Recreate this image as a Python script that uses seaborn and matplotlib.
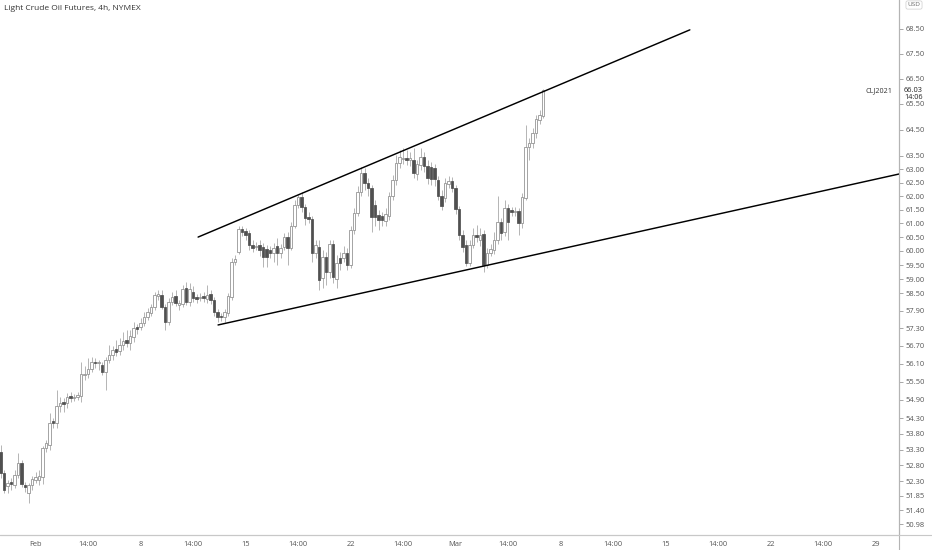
import numpy as np
import pandas as pd
import matplotlib
matplotlib.use("Agg")
import matplotlib.pyplot as plt
import seaborn as sns
from matplotlib.ticker import FixedLocator, FixedFormatter, NullLocator
from matplotlib.lines import Line2D

# ---------------- data (4h candles, CL1!) ----------------
opens = [53.22, 52.56, 52.15, 52.27, 52.18, 52.50, 52.86, 52.18, 51.93, 52.18,
         52.34, 52.34, 52.43, 53.34, 53.44, 54.21, 54.14, 54.70, 54.82, 54.80,
         55.03, 54.97, 55.00, 55.03, 55.73, 55.75, 55.92, 56.15, 56.11, 56.05,
         55.82, 56.22, 56.39, 56.59, 56.52, 56.73, 56.90, 56.80, 57.00, 57.33,
         57.34, 57.48, 57.68, 57.82, 58.02, 58.41, 58.44, 58.02, 57.51, 58.20,
         58.41, 58.09, 58.13, 58.69, 58.20, 58.55, 58.37, 58.33, 58.40, 58.30,
         58.48, 58.27, 57.85, 57.72, 57.68, 57.82, 58.37, 59.61, 59.96, 60.79,
         60.71, 60.64, 60.21, 60.14, 60.21, 60.14, 60.07, 60.03, 59.93, 60.17,
         59.93, 60.14, 60.50, 60.10, 60.90, 61.67, 61.96, 61.59, 61.23, 61.16,
         59.93, 60.14, 59.04, 59.78, 59.25, 60.24, 59.00, 59.75, 59.75, 59.93,
         59.50, 60.75, 61.37, 62.15, 62.86, 62.48, 62.30, 61.67, 61.30, 61.26,
         61.08, 61.26, 62.00, 62.59, 63.24, 63.39, 63.43, 63.35, 63.35, 62.82,
         63.16, 63.46, 63.12, 63.08, 63.05, 62.59, 62.00, 61.93, 62.44, 62.55,
         62.30, 61.52, 60.57, 60.21, 59.57, 60.21, 60.57, 60.39, 60.61, 59.50,
         59.93, 60.03, 60.39, 61.04, 60.68, 61.56, 61.48, 61.41, 61.44, 61.01,
         61.93, 63.84, 64.00, 64.38, 64.88, 65.04]
highs = [53.44, 52.65, 52.34, 52.40, 52.65, 53.18, 52.96, 52.27, 52.24, 52.46,
         52.59, 52.65, 53.41, 53.60, 54.47, 54.31, 55.22, 55.00, 54.96, 55.12,
         55.16, 55.09, 55.16, 56.15, 56.02, 56.29, 56.32, 56.29, 56.22, 56.15,
         56.32, 56.73, 56.70, 56.90, 56.97, 57.17, 57.24, 57.24, 57.51, 57.44,
         57.65, 57.85, 57.99, 58.13, 58.55, 58.62, 58.62, 58.13, 58.34, 58.55,
         58.62, 58.27, 58.79, 58.90, 58.86, 58.76, 58.48, 58.51, 58.55, 58.79,
         58.62, 58.37, 57.96, 57.82, 57.96, 58.51, 59.75, 59.86, 60.90, 60.90,
         60.82, 60.75, 60.39, 60.32, 60.39, 60.28, 60.21, 60.17, 60.28, 60.46,
         60.24, 60.64, 60.68, 61.04, 61.85, 62.04, 62.15, 61.70, 61.41, 61.26,
         60.39, 60.39, 60.03, 59.96, 60.39, 60.39, 59.86, 59.96, 60.17, 60.10,
         60.90, 61.56, 62.37, 63.08, 63.05, 62.67, 62.41, 61.85, 61.48, 61.41,
         61.56, 62.15, 62.78, 63.54, 63.73, 63.81, 63.73, 63.65, 63.81, 63.35,
         63.81, 63.65, 63.35, 63.27, 63.20, 62.74, 62.22, 62.67, 62.74, 62.71,
         62.41, 61.63, 60.75, 60.39, 60.39, 60.82, 60.93, 60.82, 60.75, 60.10,
         60.24, 60.68, 62.00, 61.19, 61.85, 61.70, 61.59, 61.59, 61.56, 62.11,
         64.69, 64.19, 64.57, 65.08, 65.27, 66.08]
lows = [52.40, 51.93, 51.93, 52.02, 52.08, 52.40, 52.11, 51.96, 51.63, 52.02,
        52.24, 52.18, 52.21, 53.22, 53.28, 53.98, 53.98, 54.50, 54.50, 54.64,
        54.83, 54.87, 54.90, 54.83, 55.55, 55.62, 55.82, 55.95, 55.89, 55.72,
        55.22, 56.12, 56.22, 56.36, 56.39, 56.56, 56.66, 56.56, 56.83, 57.10,
        57.24, 57.37, 57.58, 57.72, 57.92, 58.27, 57.96, 57.24, 57.41, 58.09,
        58.06, 57.92, 58.02, 58.09, 58.06, 58.20, 58.16, 58.23, 58.20, 58.16,
        58.13, 57.72, 57.51, 57.55, 57.51, 57.72, 58.27, 59.50, 59.89, 60.54,
        60.39, 60.03, 59.96, 60.03, 59.82, 59.43, 59.43, 59.75, 59.61, 59.50,
        59.75, 60.03, 59.50, 60.03, 60.82, 61.56, 61.41, 60.93, 61.01, 59.61,
        59.75, 58.62, 58.69, 58.79, 59.04, 58.86, 58.69, 59.32, 59.61, 59.32,
        59.39, 60.61, 61.26, 62.00, 62.22, 62.00, 60.68, 60.90, 60.75, 60.90,
        60.90, 61.12, 61.85, 62.41, 63.05, 63.20, 63.16, 63.12, 62.67, 62.59,
        62.97, 62.89, 62.44, 62.41, 62.37, 61.85, 61.48, 61.78, 62.30, 62.15,
        61.34, 60.39, 59.96, 59.47, 59.47, 60.10, 60.32, 60.17, 59.25, 59.39,
        59.82, 59.89, 60.24, 60.39, 60.54, 60.39, 61.26, 61.26, 60.57, 60.82,
        61.85, 63.35, 63.81, 64.19, 64.73, 64.96]
closes = [52.56, 52.02, 52.24, 52.21, 52.50, 52.86, 52.21, 52.11, 52.18, 52.37,
          52.43, 52.46, 53.34, 53.50, 54.14, 54.14, 54.70, 54.80, 54.78, 55.00,
          54.96, 55.01, 55.06, 55.75, 55.77, 55.92, 56.15, 56.12, 56.14, 55.82,
          56.22, 56.39, 56.56, 56.49, 56.73, 56.87, 56.80, 57.04, 57.31, 57.28,
          57.48, 57.68, 57.85, 58.02, 58.44, 58.48, 58.02, 57.51, 58.20, 58.37,
          58.16, 58.16, 58.65, 58.20, 58.65, 58.34, 58.30, 58.37, 58.34, 58.44,
          58.27, 57.85, 57.68, 57.68, 57.85, 58.41, 59.61, 59.71, 60.79, 60.68,
          60.57, 60.21, 60.10, 60.17, 60.03, 59.78, 59.78, 59.93, 60.10, 59.93,
          60.10, 60.50, 60.10, 60.90, 61.67, 61.96, 61.59, 61.19, 61.16, 59.93,
          60.21, 58.97, 59.78, 59.25, 60.24, 59.08, 59.57, 59.57, 59.93, 59.50,
          60.75, 61.37, 62.15, 62.86, 62.48, 62.30, 61.23, 61.23, 61.12, 61.12,
          61.34, 62.00, 62.59, 63.24, 63.46, 63.43, 63.35, 63.43, 62.86, 63.20,
          63.46, 63.12, 62.67, 62.63, 62.63, 62.00, 61.63, 62.48, 62.55, 62.30,
          61.52, 60.57, 60.14, 59.57, 60.21, 60.57, 60.50, 60.57, 59.50, 59.93,
          60.07, 60.39, 61.04, 60.64, 61.56, 61.04, 61.41, 61.44, 61.01, 61.96,
          63.84, 64.00, 64.38, 64.92, 65.08, 66.03]

x_tick_pos = [10, 25, 40, 55, 70, 85, 100, 115, 130, 145, 160, 175, 190, 205, 220, 235, 250]
x_tick_labels = ["Feb", "14:00", "8", "14:00", "15", "14:00", "22", "14:00", "Mar",
                 "14:00", "8", "14:00", "15", "14:00", "22", "14:00", "29"]
y_ticks = [68.50, 67.50, 66.50, 65.50, 64.50, 63.50, 63.00, 62.50, 62.00, 61.50,
           61.00, 60.50, 60.00, 59.50, 59.00, 58.50, 57.90, 57.30, 56.70, 56.10,
           55.50, 54.90, 54.30, 53.80, 53.30, 52.80, 52.30, 51.85, 51.40, 50.98]

upper_line_x = [56.4, 196.9]
upper_line_y = [60.50, 68.46]
lower_line_x = [62.1, 256.7]
lower_line_y = [57.41, 62.82]

last_price = 66.03
symbol = "CLJ2021"
countdown = "14:06"
title = "Light Crude Oil Futures, 4h, NYMEX"
currency = "USD"

# ---------------- figure ----------------
sns.set_theme(style="white")
plt.rcParams['font.family'] = ['Open Sans', 'DejaVu Sans']

W, H = 932, 550
fig = plt.figure(figsize=(W / 100, H / 100), dpi=100)
fig.patch.set_facecolor("white")
ax = fig.add_axes([0, 15 / H, 899 / W, 535 / H])
ax.set_facecolor("white")
ax.set_yscale("log")

df = pd.DataFrame(dict(open=opens, high=highs, low=lows, close=closes))
df["idx"] = np.arange(len(df))
up = (df["close"] >= df["open"]).values
bottom = np.minimum(df["open"], df["close"]).values
height = np.maximum(np.abs(df["close"] - df["open"]).values, 0.03)

ax.vlines(df["idx"], df["low"], df["high"], color="#a8a8a8", lw=0.6, zorder=1)
ax.bar(df["idx"][up], height[up], bottom=bottom[up], width=0.7,
       color="white", edgecolor="#8c8c8c", linewidth=0.55, zorder=2)
ax.bar(df["idx"][~up], height[~up], bottom=bottom[~up], width=0.7,
       color="#505050", edgecolor="#505050", linewidth=0.55, zorder=2)

lines_df = pd.DataFrame({
    "x": upper_line_x + lower_line_x,
    "y": upper_line_y + lower_line_y,
    "line": ["upper", "upper", "lower", "lower"],
})
sns.lineplot(data=lines_df, x="x", y="y", units="line", estimator=None,
             color="black", lw=1.05, ax=ax, zorder=3, legend=False)

ax.set_xlim(-0.2, 256.66)
ax.set_ylim(50.65, 69.69)
ax.set_xlabel("")
ax.set_ylabel("")

ax.yaxis.set_major_locator(FixedLocator(y_ticks))
ax.yaxis.set_major_formatter(FixedFormatter([f"{v:.2f}" for v in y_ticks]))
ax.yaxis.set_minor_locator(NullLocator())
ax.yaxis.tick_right()
ax.tick_params(axis="y", which="major", length=3, width=0.6, color="#9a9a9a",
               labelsize=5.4, labelcolor="#555555", pad=2, direction="out")

ax.xaxis.set_major_locator(FixedLocator(x_tick_pos))
ax.xaxis.set_major_formatter(FixedFormatter(x_tick_labels))
ax.xaxis.set_minor_locator(NullLocator())
ax.tick_params(axis="x", which="major", length=2, width=0.6, color="#9a9a9a",
               labelsize=5.4, labelcolor="#555555", pad=2, direction="out")

for s in ["top", "left"]:
    ax.spines[s].set_visible(False)
ax.spines["right"].set_color("#b4b4b4")
ax.spines["right"].set_linewidth(0.8)
ax.spines["bottom"].set_color("#c8c8c8")
ax.spines["bottom"].set_linewidth(0.8)
ax.grid(False)

# axis line extensions
fig.add_artist(Line2D([899 / W, 899 / W], [0, 1], transform=fig.transFigure,
                      color="#b4b4b4", lw=0.8))
fig.add_artist(Line2D([0, 1], [15 / H, 15 / H], transform=fig.transFigure,
                      color="#c8c8c8", lw=0.8))

# last price label
ax.annotate(symbol, xy=(1, last_price), xycoords=("axes fraction", "data"),
            xytext=(-5, 0), textcoords="offset points", ha="right", va="center",
            fontsize=5.2, color="#333333", annotation_clip=False)
ax.annotate(f"{last_price:.2f}", xy=(1, last_price), xycoords=("axes fraction", "data"),
            xytext=(3.6, 0), textcoords="offset points", ha="left", va="center",
            fontsize=5.4, color="#222222", annotation_clip=False,
            bbox=dict(boxstyle="square,pad=0.1", fc="white", ec="none"))
ax.annotate(countdown, xy=(1, last_price), xycoords=("axes fraction", "data"),
            xytext=(3.6, -5), textcoords="offset points", ha="left", va="center",
            fontsize=5.2, color="#222222", annotation_clip=False)

fig.text(4 / W, 1 - 8 / H, title, fontsize=6, color="#333333", va="center", ha="left")
fig.text(914 / W, 1 - 5 / H, currency, fontsize=4.6, color="#666666", va="center",
         ha="center", bbox=dict(boxstyle="round,pad=0.25", fc="white", ec="#cccccc", lw=0.5))

fig.savefig("out.png", dpi=100, facecolor="white")
